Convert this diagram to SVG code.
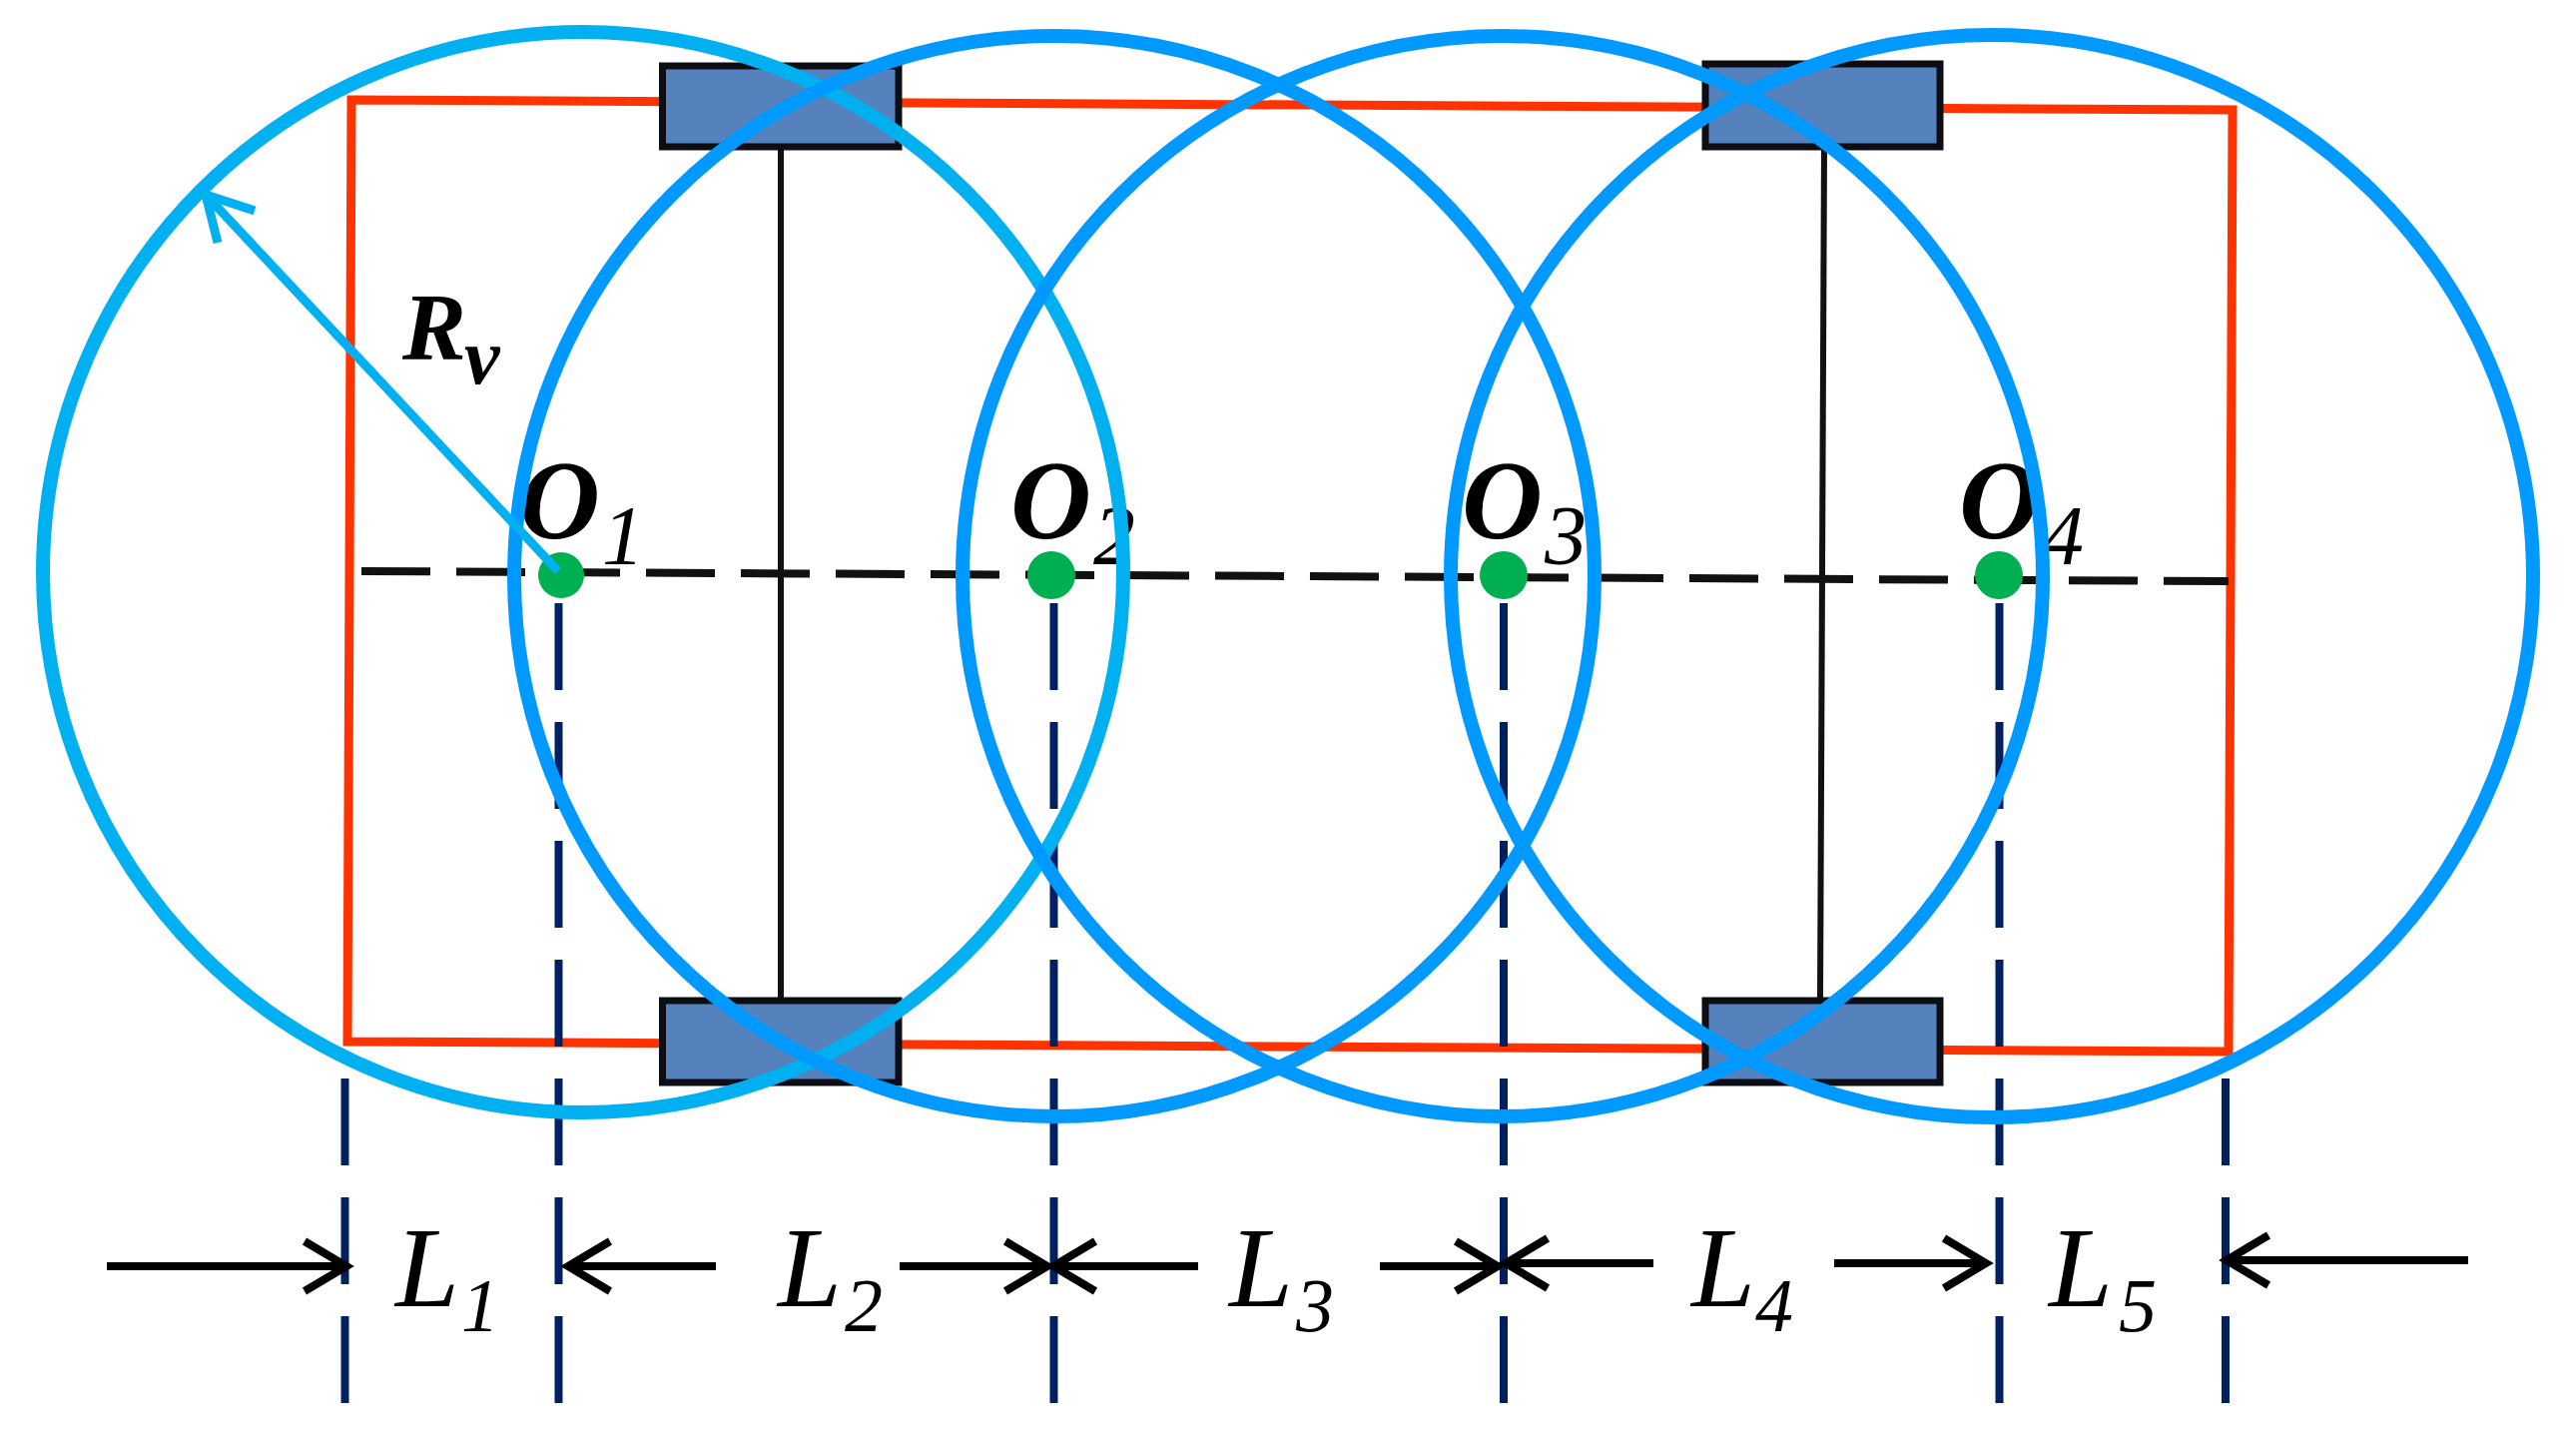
<svg xmlns="http://www.w3.org/2000/svg" width="2580" height="1439" viewBox="0 0 2580 1439">
<style>
.bg{fill:#fff}
.frame{fill:none;stroke:#ff3300;stroke-width:9}
.axle{fill:none;stroke:#111;stroke-width:6}
.centre{fill:none;stroke:#111;stroke-width:8;stroke-dasharray:69 26}
.guide{fill:none;stroke:#002060;stroke-width:8;stroke-dasharray:87 32}
.wheel{fill:#5581bd;stroke:#0d0d14;stroke-width:7}
.c1{fill:none;stroke:#00b0f0;stroke-width:14}
.cn{fill:none;stroke:#0099ff;stroke-width:14}
.dot{fill:#00b050}
.dim{fill:none;stroke:#000;stroke-width:8}
.rv{fill:none;stroke:#00b0f0;stroke-width:9}
text{font-family:"Liberation Serif","Times New Roman",serif;font-style:italic;fill:#000}
.o{font-size:112px;font-weight:bold}
.os{font-size:84px}
.l{font-size:115px}
.ls{font-size:76px}
.r{font-size:96px;font-weight:bold}
.rs{font-size:80px;font-weight:bold}
</style>
<defs>
<marker id="head" markerUnits="userSpaceOnUse" markerWidth="70" markerHeight="70" refX="50" refY="35" orient="auto" overflow="visible">
<path d="M8,10 L50,35 L8,60" fill="none" stroke="#000" stroke-width="8"/>
</marker>
</defs>
<rect class="bg" width="2580" height="1439"/>
<g id="frame"><path class="frame" d="M352,100 L2236,110 L2232,1053 L348,1043 Z"/></g>
<g id="connectors">
<path class="axle" d="M782,149 V1001"/>
<path class="axle" d="M1827,148 L1823,1001"/>
<path class="centre" d="M362,572 L2232,582"/>
<path class="guide" d="M559.500,604 V1405"/>
<path class="guide" d="M1055.500,604 V1405"/>
<path class="guide" d="M1506,604 V1405"/>
<path class="guide" d="M2002.500,604 V1405"/>
<path class="guide" d="M345.500,1080 V1405"/>
<path class="guide" d="M2229,1080 V1405"/>
<path class="dim" marker-end="url(#head)" d="M107,1268 H347"/>
<path class="dim" marker-end="url(#head)" d="M717,1268 H569"/>
<path class="dim" marker-end="url(#head)" d="M901,1268 H1049"/>
<path class="dim" marker-end="url(#head)" d="M1200,1268 H1055"/>
<path class="dim" marker-end="url(#head)" d="M1382,1268 H1500"/>
<path class="dim" marker-end="url(#head)" d="M1656,1265 H1508"/>
<path class="dim" marker-end="url(#head)" d="M1837,1265 H1989"/>
<path class="dim" marker-end="url(#head)" d="M2472,1262 H2230"/>
</g>
<g id="wheel-1"><rect class="wheel" x="663.500" y="66" width="236.500" height="81"/></g>
<g id="wheel-2"><rect class="wheel" x="663.500" y="1002" width="236.500" height="82"/></g>
<g id="wheel-3"><rect class="wheel" x="1708" y="64" width="235" height="83"/></g>
<g id="wheel-4"><rect class="wheel" x="1708" y="1002" width="235" height="82"/></g>
<g id="labels">
<text class="r" x="403" y="360">R</text><text class="rs" x="465" y="384">v</text>
<text class="o" x="520" y="539">O</text><text class="os" x="603" y="565">1</text>
<text class="o" x="1012" y="539">O</text><text class="os" x="1095" y="565">2</text>
<text class="o" x="1464" y="539">O</text><text class="os" x="1547" y="565">3</text>
<text class="o" x="1962" y="539">O</text><text class="os" x="2045" y="565">4</text>
<text class="l" x="396" y="1308">L</text><text class="ls" x="462" y="1333">1</text>
<text class="l" x="779" y="1308">L</text><text class="ls" x="846" y="1333">2</text>
<text class="l" x="1231" y="1308">L</text><text class="ls" x="1298" y="1333">3</text>
<text class="l" x="1694" y="1308">L</text><text class="ls" x="1758" y="1333">4</text>
<text class="l" x="2052" y="1308">L</text><text class="ls" x="2122" y="1333">5</text>
</g>
<g id="circle-1"><circle class="c1" cx="584" cy="573" r="541"/></g>
<g id="circle-2"><circle class="cn" cx="1056" cy="577" r="541"/></g>
<g id="circle-3"><circle class="cn" cx="1505" cy="577" r="541"/></g>
<g id="circle-4"><circle class="cn" cx="1995" cy="577" r="542"/></g>
<g id="O1"><circle class="dot" cx="562" cy="576" r="23"/></g>
<g id="O2"><circle class="dot" cx="1053" cy="576" r="24"/></g>
<g id="O3"><circle class="dot" cx="1506" cy="576" r="24"/></g>
<g id="O4"><circle class="dot" cx="2002" cy="576" r="24"/></g>
<g id="radius"><path class="rv" d="M559,572 L206,195 M255,211 L206,195 L218,243"/></g>
</svg>
